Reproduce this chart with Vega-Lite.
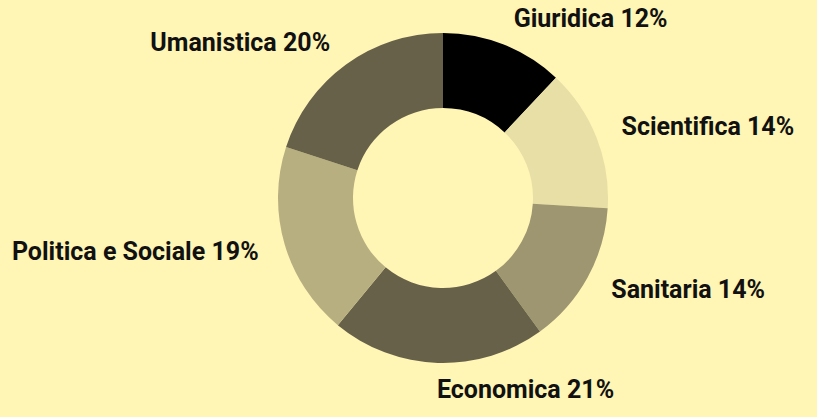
{
  "$schema": "https://vega.github.io/schema/vega-lite/v6.json",
  "width": 748,
  "height": 396,
  "autosize": {"type": "none"},
  "padding": {"left": 69, "top": 0, "right": 0, "bottom": 21},
  "background": "#FFF5B5",
  "config": {"view": {"stroke": null}},
  "data": {
    "values": [
      {"ord": 1, "area": "Giuridica", "pct": 12, "side": "right"},
      {"ord": 2, "area": "Scientifica", "pct": 14, "side": "right"},
      {"ord": 3, "area": "Sanitaria", "pct": 14, "side": "right"},
      {"ord": 4, "area": "Economica", "pct": 21, "side": "right"},
      {"ord": 5, "area": "Politica e Sociale", "pct": 19, "side": "left"},
      {"ord": 6, "area": "Umanistica", "pct": 20, "side": "left"}
    ]
  },
  "transform": [{"calculate": "datum.area + ' ' + datum.pct + '%'", "as": "label"}],
  "encoding": {
    "theta": {"field": "pct", "type": "quantitative", "stack": true},
    "order": {"field": "ord", "type": "quantitative"}
  },
  "layer": [
    {
      "mark": {"type": "arc", "outerRadius": 165, "innerRadius": 90},
      "encoding": {
        "color": {
          "field": "area",
          "type": "nominal",
          "legend": null,
          "scale": {
            "domain": ["Giuridica", "Scientifica", "Sanitaria", "Economica", "Politica e Sociale", "Umanistica"],
            "range": ["#000000", "#E8DFA6", "#9D9670", "#67614A", "#B8AF80", "#67614A"]
          }
        }
      }
    },
    {
      "mark": {"type": "text", "radius": 192, "align": {"expr": "datum.side == 'left' ? 'right' : 'left'"}, "baseline": "middle", "font": "Roboto", "fontWeight": "bold", "fontSize": 25, "color": "#111111"},
      "encoding": {"text": {"field": "label"}}
    }
  ]
}
